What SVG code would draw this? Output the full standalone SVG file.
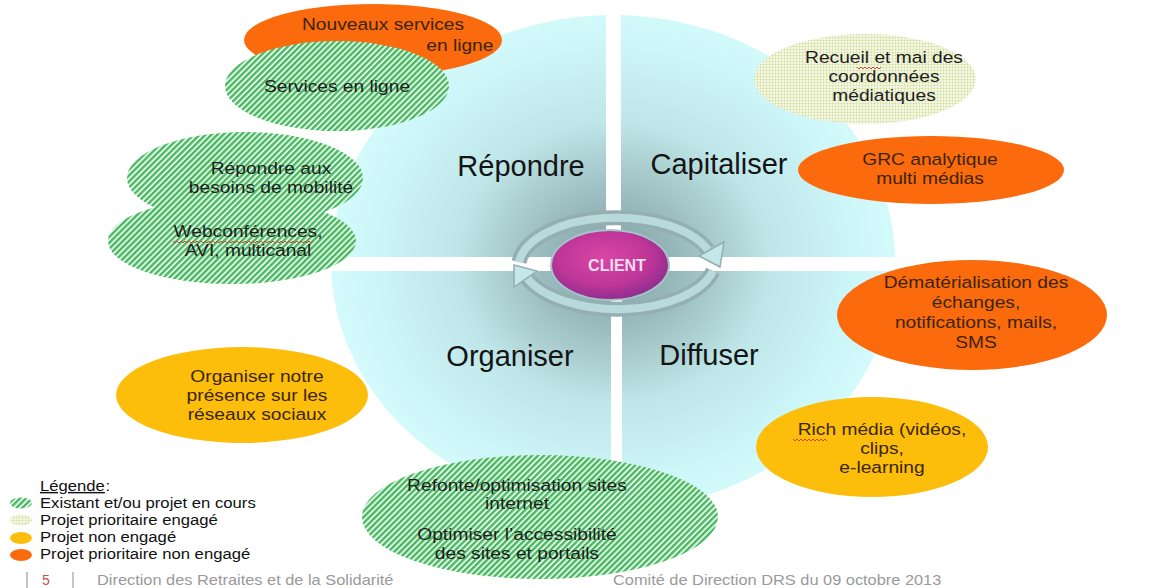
<svg xmlns="http://www.w3.org/2000/svg" width="1155" height="588" viewBox="0 0 1155 588">
  <defs>
    <style>
      .t { font-family: "Liberation Sans", Arial, sans-serif; font-size: 17px; fill: #1e1e1e; text-anchor: middle; }
      .tb { fill: #3a2508; }
      .q { font-family: "Liberation Sans", Arial, sans-serif; font-size: 29px; fill: #141414; text-anchor: middle; }
      .lg { font-family: "Liberation Sans", Arial, sans-serif; font-size: 14.5px; fill: #111; }
      .ft { font-family: "Liberation Sans", Arial, sans-serif; font-size: 14px; fill: #9a9a9a; }
      .orange { fill: #fb6a0c; }
      .yellow { fill: #fdbd0b; }
      .hatch { fill: url(#hatch); }
      .dots { fill: url(#dots); }
      .spell { fill: none; stroke: #d43a2a; stroke-width: 0.9; }
      .ring { fill: none; stroke: #93afb1; stroke-width: 15; }
      .ring-in { fill: none; stroke: #b8dadc; stroke-width: 8; }
      .head { fill: #c4e7e9; stroke: #93afb1; stroke-width: 1.5; }
    </style>
    <pattern id="hatch" width="4.2" height="4.2" patternUnits="userSpaceOnUse" patternTransform="rotate(45)">
      <rect width="4.2" height="4.2" fill="#e6f6e9"/>
      <rect width="2.3" height="4.2" fill="#46b960"/>
    </pattern>
    <pattern id="dots" width="3" height="3" patternUnits="userSpaceOnUse">
      <rect width="3" height="3" fill="#f6f8e6"/>
      <circle cx="1.5" cy="1.5" r="0.95" fill="#cfdc9a"/>
    </pattern>
    <radialGradient id="sphere" gradientUnits="userSpaceOnUse" cx="613" cy="262" r="285" gradientTransform="translate(613 262) scale(1 0.9) translate(-613 -262)">
      <stop offset="0" stop-color="#7e9ea0"/>
      <stop offset="0.28" stop-color="#9dbfc1"/>
      <stop offset="0.55" stop-color="#bfe6e8"/>
      <stop offset="0.85" stop-color="#cdf6f8"/>
      <stop offset="1" stop-color="#d4fbfc"/>
    </radialGradient>
    <radialGradient id="client" cx="0.45" cy="0.4" r="0.65">
      <stop offset="0" stop-color="#dc46a5"/>
      <stop offset="0.6" stop-color="#bd3698"/>
      <stop offset="1" stop-color="#842c8e"/>
    </radialGradient>
    <clipPath id="qTL"><rect x="0" y="0" width="606" height="257"/></clipPath>
    <clipPath id="qTR"><rect x="621" y="0" width="534" height="257"/></clipPath>
    <clipPath id="qBL"><rect x="0" y="271" width="611" height="317"/></clipPath>
    <clipPath id="qBR"><rect x="622" y="271" width="533" height="317"/></clipPath>
  </defs>

  <rect width="1155" height="588" fill="#ffffff"/>

  <!-- four quadrants of the sphere -->
  <g id="sphere-quadrants">
    <g id="q-repondre">
      <ellipse cx="613" cy="262" rx="282" ry="247" fill="url(#sphere)" clip-path="url(#qTL)"/>
      <text class="q" x="521" y="176">Répondre</text>
    </g>
    <g id="q-capitaliser">
      <ellipse cx="613" cy="262" rx="282" ry="247" fill="url(#sphere)" clip-path="url(#qTR)"/>
      <text class="q" x="719" y="174">Capitaliser</text>
    </g>
    <g id="q-organiser">
      <ellipse cx="613" cy="262" rx="282" ry="247" fill="url(#sphere)" clip-path="url(#qBL)"/>
      <text class="q" x="510" y="366">Organiser</text>
    </g>
    <g id="q-diffuser">
      <ellipse cx="613" cy="262" rx="282" ry="247" fill="url(#sphere)" clip-path="url(#qBR)"/>
      <text class="q" x="709" y="365">Diffuser</text>
    </g>
  </g>

  <!-- circular arrows around the centre -->
  <g id="connectors">
    <path class="ring" d="M 519 262 A 98 50 0 0 1 708 250"/>
    <path class="ring-in" d="M 519 262 A 98 50 0 0 1 708 250"/>
    <polygon class="head" points="724,242 699,256 720,267"/>
    <path class="ring" d="M 713 271 A 98 50 0 0 1 527 278"/>
    <path class="ring-in" d="M 713 271 A 98 50 0 0 1 527 278"/>
    <polygon class="head" points="537,271 514,287 514,265"/>
  </g>

  <g id="n-client">
    <ellipse cx="610" cy="265" rx="59" ry="35" fill="url(#client)" stroke="#a6c4c6" stroke-width="2"/>
    <text x="617" y="271" font-family="Liberation Sans, Arial, sans-serif" font-size="16" font-weight="bold" fill="#f7dff0" text-anchor="middle">CLIENT</text>
  </g>

  <g id="n-nouveaux">
    <ellipse class="orange" cx="373" cy="40" rx="129" ry="36"/>
    <g transform="translate(383 0) scale(1.13 1)">
      <text class="t tb" x="0" y="30">Nouveaux services</text>
      <text class="t tb" x="68" y="51">en ligne</text>
    </g>
  </g>

  <g id="n-services">
    <ellipse class="hatch" cx="337" cy="86" rx="112" ry="45"/>
    <g transform="translate(337 0) scale(1.13 1)">
      <text class="t" x="0" y="92">Services en ligne</text>
    </g>
  </g>

  <g id="n-mobilite">
    <ellipse class="hatch" cx="245" cy="178" rx="118" ry="46"/>
    <g transform="translate(271 0) scale(1.13 1)">
      <text class="t" x="0" y="174">Répondre aux</text>
      <text class="t" x="0" y="193">besoins de mobilité</text>
    </g>
  </g>

  <g id="n-webconf">
    <ellipse class="hatch" cx="232" cy="241" rx="124" ry="43"/>
    <g transform="translate(248 0) scale(1.13 1)">
      <text class="t" x="0" y="237">Webconférences,</text>
      <text class="t" x="0" y="256">AVI, multicanal</text>
    </g>
    <path class="spell" d="M173 241 l2 2 l2 -2 l2 2 l2 -2 l2 2 l2 -2 l2 2 l2 -2 l2 2 l2 -2 l2 2 l2 -2 l2 2 l2 -2 l2 2 l2 -2 l2 2 l2 -2 l2 2 l2 -2 l2 2 l2 -2 l2 2 l2 -2 l2 2 l2 -2 l2 2 l2 -2 l2 2 l2 -2 l2 2 l2 -2 l2 2 l2 -2 l2 2 l2 -2 l2 2 l2 -2 l2 2 l2 -2 l2 2 l2 -2 l2 2 l2 -2 l2 2 l2 -2 l2 2 l2 -2 l2 2 l2 -2 l2 2 l2 -2 l2 2 l2 -2 l2 2 l2 -2 l2 2 l2 -2 l2 2 l2 -2 l2 2 l2 -2 l2 2 l2 -2 l2 2 l2 -2 l2 2 l2 -2 l2 2 l2 -2"/>
  </g>

  <g id="n-reseaux">
    <ellipse class="yellow" cx="242" cy="395" rx="126" ry="48"/>
    <g transform="translate(257 0) scale(1.13 1)">
      <text class="t tb" x="0" y="382">Organiser notre</text>
      <text class="t tb" x="0" y="401">présence sur les</text>
      <text class="t tb" x="0" y="420">réseaux sociaux</text>
    </g>
  </g>

  <g id="n-refonte">
    <ellipse class="hatch" cx="540" cy="517" rx="178" ry="62"/>
    <g transform="translate(517 0) scale(1.13 1)">
      <text class="t" x="0" y="491">Refonte/optimisation sites</text>
      <text class="t" x="0" y="509">internet</text>
      <text class="t" x="0" y="540">Optimiser l’accessibilité</text>
      <text class="t" x="0" y="559">des sites et portails</text>
    </g>
  </g>

  <g id="n-recueil">
    <ellipse class="dots" cx="865" cy="79" rx="111" ry="45"/>
    <g transform="translate(884 0) scale(1.13 1)">
      <text class="t" x="0" y="63">Recueil et mai des</text>
      <text class="t" x="0" y="82">coordonnées</text>
      <text class="t" x="0" y="101">médiatiques</text>
    </g>
    <path class="spell" d="M857 67 l2 2 l2 -2 l2 2 l2 -2 l2 2 l2 -2 l2 2 l2 -2 l2 2 l2 -2 l2 2 l2 -2"/>
  </g>

  <g id="n-grc">
    <ellipse class="orange" cx="931" cy="170" rx="133" ry="34"/>
    <g transform="translate(930 0) scale(1.13 1)">
      <text class="t tb" x="0" y="165">GRC analytique</text>
      <text class="t tb" x="0" y="184">multi médias</text>
    </g>
  </g>

  <g id="n-demat">
    <ellipse class="orange" cx="972" cy="315" rx="135" ry="55"/>
    <g transform="translate(976 0) scale(1.13 1)">
      <text class="t tb" x="0" y="288">Dématérialisation des</text>
      <text class="t tb" x="0" y="308">échanges,</text>
      <text class="t tb" x="0" y="328">notifications, mails,</text>
      <text class="t tb" x="0" y="348">SMS</text>
    </g>
  </g>

  <g id="n-rich">
    <ellipse class="yellow" cx="872" cy="447" rx="116" ry="50"/>
    <g transform="translate(882 0) scale(1.13 1)">
      <text class="t tb" x="0" y="435">Rich média (vidéos,</text>
      <text class="t tb" x="0" y="454">clips,</text>
      <text class="t tb" x="0" y="473">e-learning</text>
    </g>
    <path class="spell" d="M793 439 l2 2 l2 -2 l2 2 l2 -2 l2 2 l2 -2 l2 2 l2 -2 l2 2 l2 -2 l2 2 l2 -2 l2 2 l2 -2 l2 2 l2 -2 l2 2"/>
  </g>

  <!-- legend -->
  <g id="legend">
    <ellipse class="hatch" cx="21" cy="503" rx="11" ry="5.5"/>
    <ellipse class="dots" cx="21" cy="520" rx="11" ry="5.5"/>
    <ellipse class="yellow" cx="21" cy="538" rx="11" ry="6"/>
    <ellipse class="orange" cx="21" cy="555" rx="11" ry="6"/>
    <g transform="translate(40 0) scale(1.15 1)">
      <text class="lg" x="0" y="491" text-decoration="underline">Légende</text>
      <text class="lg" x="57" y="491">:</text>
      <text class="lg" x="0" y="508">Existant et/ou projet en cours</text>
      <text class="lg" x="0" y="525">Projet prioritaire engagé</text>
      <text class="lg" x="0" y="542">Projet non engagé</text>
      <text class="lg" x="0" y="559">Projet prioritaire non engagé</text>
    </g>
  </g>

  <!-- page footer -->
  <g id="footer">
    <line x1="27" y1="572" x2="27" y2="588" stroke="#8a8a8a" stroke-width="1"/>
    <line x1="73" y1="572" x2="73" y2="588" stroke="#8a8a8a" stroke-width="1"/>
    <text x="42" y="585" font-family="Liberation Sans, Arial, sans-serif" font-size="14" fill="#c0504d">5</text>
    <g transform="translate(97 0) scale(1.17 1)">
      <text class="ft" x="0" y="585">Direction des Retraites et de la Solidarité</text>
    </g>
    <g transform="translate(613 0) scale(1.17 1)">
      <text class="ft" x="0" y="585">Comité de Direction DRS du  09 octobre  2013</text>
    </g>
  </g>
</svg>
